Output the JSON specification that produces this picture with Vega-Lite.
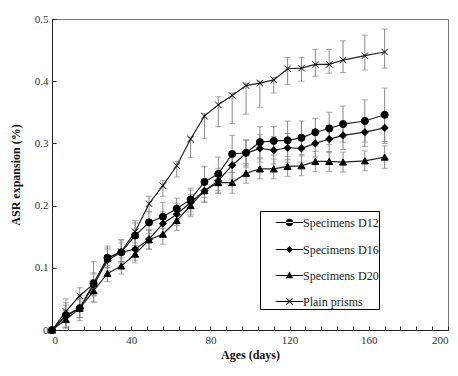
{
  "$schema": "https://vega.github.io/schema/vega-lite/v6.json",
  "autosize": {"type": "none"},
  "width": 396,
  "height": 311,
  "padding": {"left": 52, "top": 19, "right": 10, "bottom": 46},
  "background": "white",
  "config": {
    "font": "Liberation Serif",
    "view": {"stroke": "#777", "strokeWidth": 1},
    "axis": {
      "labelFont": "Liberation Serif",
      "labelFontSize": 11,
      "labelColor": "#333",
      "titleFont": "Liberation Serif",
      "titleFontSize": 12,
      "titleFontWeight": "bold",
      "titleColor": "#111",
      "domainColor": "#222",
      "tickColor": "#222",
      "grid": false
    },
    "legend": {"labelFont": "Liberation Serif", "labelFontSize": 12, "labelColor": "#222"}
  },
  "datasets": {
    "pts": [
      {"s": "Specimens D12", "d": 0, "v": 0, "lo": 0, "hi": 0},
      {"s": "Specimens D12", "d": 7, "v": 0.024, "lo": 0.004, "hi": 0.044},
      {"s": "Specimens D12", "d": 14, "v": 0.035, "lo": 0.015, "hi": 0.055},
      {"s": "Specimens D12", "d": 21, "v": 0.075, "lo": 0.045, "hi": 0.11},
      {"s": "Specimens D12", "d": 28, "v": 0.116, "lo": 0.1, "hi": 0.132},
      {"s": "Specimens D12", "d": 35, "v": 0.125, "lo": 0.108, "hi": 0.145},
      {"s": "Specimens D12", "d": 42, "v": 0.152, "lo": 0.132, "hi": 0.172},
      {"s": "Specimens D12", "d": 49, "v": 0.173, "lo": 0.155, "hi": 0.19},
      {"s": "Specimens D12", "d": 56, "v": 0.182, "lo": 0.163, "hi": 0.205},
      {"s": "Specimens D12", "d": 63, "v": 0.195, "lo": 0.178, "hi": 0.212},
      {"s": "Specimens D12", "d": 70, "v": 0.21, "lo": 0.19, "hi": 0.228},
      {"s": "Specimens D12", "d": 77, "v": 0.238, "lo": 0.213, "hi": 0.263},
      {"s": "Specimens D12", "d": 84, "v": 0.251, "lo": 0.224, "hi": 0.278},
      {"s": "Specimens D12", "d": 91, "v": 0.283, "lo": 0.253, "hi": 0.313},
      {"s": "Specimens D12", "d": 98, "v": 0.285, "lo": 0.265, "hi": 0.305},
      {"s": "Specimens D12", "d": 105, "v": 0.302, "lo": 0.277, "hi": 0.327},
      {"s": "Specimens D12", "d": 112, "v": 0.304, "lo": 0.281, "hi": 0.327},
      {"s": "Specimens D12", "d": 119, "v": 0.305, "lo": 0.274, "hi": 0.336},
      {"s": "Specimens D12", "d": 126, "v": 0.309, "lo": 0.282, "hi": 0.336},
      {"s": "Specimens D12", "d": 133, "v": 0.318, "lo": 0.296, "hi": 0.34},
      {"s": "Specimens D12", "d": 140, "v": 0.324, "lo": 0.298, "hi": 0.35},
      {"s": "Specimens D12", "d": 147, "v": 0.331, "lo": 0.302, "hi": 0.36},
      {"s": "Specimens D12", "d": 158, "v": 0.336, "lo": 0.302, "hi": 0.37},
      {"s": "Specimens D12", "d": 168, "v": 0.346, "lo": 0.303, "hi": 0.389},
      {"s": "Specimens D16", "d": 0, "v": 0, "lo": 0, "hi": 0},
      {"s": "Specimens D16", "d": 7, "v": 0.022, "lo": 0.005, "hi": 0.04},
      {"s": "Specimens D16", "d": 14, "v": 0.035, "lo": 0.02, "hi": 0.05},
      {"s": "Specimens D16", "d": 21, "v": 0.072, "lo": 0.055, "hi": 0.09},
      {"s": "Specimens D16", "d": 28, "v": 0.112, "lo": 0.095, "hi": 0.13},
      {"s": "Specimens D16", "d": 35, "v": 0.125, "lo": 0.11, "hi": 0.14},
      {"s": "Specimens D16", "d": 42, "v": 0.13, "lo": 0.112, "hi": 0.148},
      {"s": "Specimens D16", "d": 49, "v": 0.146, "lo": 0.13, "hi": 0.162},
      {"s": "Specimens D16", "d": 56, "v": 0.171, "lo": 0.153, "hi": 0.19},
      {"s": "Specimens D16", "d": 63, "v": 0.186, "lo": 0.168, "hi": 0.204},
      {"s": "Specimens D16", "d": 70, "v": 0.205, "lo": 0.185, "hi": 0.225},
      {"s": "Specimens D16", "d": 77, "v": 0.224, "lo": 0.205, "hi": 0.243},
      {"s": "Specimens D16", "d": 84, "v": 0.24, "lo": 0.22, "hi": 0.26},
      {"s": "Specimens D16", "d": 91, "v": 0.265, "lo": 0.243, "hi": 0.287},
      {"s": "Specimens D16", "d": 98, "v": 0.284, "lo": 0.262, "hi": 0.306},
      {"s": "Specimens D16", "d": 105, "v": 0.292, "lo": 0.27, "hi": 0.314},
      {"s": "Specimens D16", "d": 112, "v": 0.289, "lo": 0.267, "hi": 0.311},
      {"s": "Specimens D16", "d": 119, "v": 0.293, "lo": 0.27, "hi": 0.316},
      {"s": "Specimens D16", "d": 126, "v": 0.292, "lo": 0.27, "hi": 0.314},
      {"s": "Specimens D16", "d": 133, "v": 0.3, "lo": 0.278, "hi": 0.322},
      {"s": "Specimens D16", "d": 140, "v": 0.307, "lo": 0.285, "hi": 0.329},
      {"s": "Specimens D16", "d": 147, "v": 0.313, "lo": 0.29, "hi": 0.336},
      {"s": "Specimens D16", "d": 158, "v": 0.318, "lo": 0.295, "hi": 0.341},
      {"s": "Specimens D16", "d": 168, "v": 0.325, "lo": 0.3, "hi": 0.35},
      {"s": "Specimens D20", "d": 0, "v": 0, "lo": 0, "hi": 0},
      {"s": "Specimens D20", "d": 7, "v": 0.017, "lo": 0.003, "hi": 0.031},
      {"s": "Specimens D20", "d": 14, "v": 0.035, "lo": 0.02, "hi": 0.05},
      {"s": "Specimens D20", "d": 21, "v": 0.063, "lo": 0.045, "hi": 0.081},
      {"s": "Specimens D20", "d": 28, "v": 0.091, "lo": 0.078, "hi": 0.104},
      {"s": "Specimens D20", "d": 35, "v": 0.103, "lo": 0.09, "hi": 0.116},
      {"s": "Specimens D20", "d": 42, "v": 0.122, "lo": 0.108, "hi": 0.136},
      {"s": "Specimens D20", "d": 49, "v": 0.145, "lo": 0.13, "hi": 0.16},
      {"s": "Specimens D20", "d": 56, "v": 0.154, "lo": 0.138, "hi": 0.17},
      {"s": "Specimens D20", "d": 63, "v": 0.176, "lo": 0.16, "hi": 0.192},
      {"s": "Specimens D20", "d": 70, "v": 0.2, "lo": 0.182, "hi": 0.218},
      {"s": "Specimens D20", "d": 77, "v": 0.224, "lo": 0.207, "hi": 0.241},
      {"s": "Specimens D20", "d": 84, "v": 0.237, "lo": 0.22, "hi": 0.254},
      {"s": "Specimens D20", "d": 91, "v": 0.237, "lo": 0.22, "hi": 0.254},
      {"s": "Specimens D20", "d": 98, "v": 0.252, "lo": 0.236, "hi": 0.268},
      {"s": "Specimens D20", "d": 105, "v": 0.259, "lo": 0.243, "hi": 0.275},
      {"s": "Specimens D20", "d": 112, "v": 0.259, "lo": 0.243, "hi": 0.275},
      {"s": "Specimens D20", "d": 119, "v": 0.263, "lo": 0.247, "hi": 0.279},
      {"s": "Specimens D20", "d": 126, "v": 0.264, "lo": 0.248, "hi": 0.28},
      {"s": "Specimens D20", "d": 133, "v": 0.271, "lo": 0.255, "hi": 0.287},
      {"s": "Specimens D20", "d": 140, "v": 0.271, "lo": 0.255, "hi": 0.287},
      {"s": "Specimens D20", "d": 147, "v": 0.27, "lo": 0.254, "hi": 0.286},
      {"s": "Specimens D20", "d": 158, "v": 0.272, "lo": 0.256, "hi": 0.288},
      {"s": "Specimens D20", "d": 168, "v": 0.278, "lo": 0.26, "hi": 0.296},
      {"s": "Plain prisms", "d": 0, "v": 0, "lo": 0, "hi": 0},
      {"s": "Plain prisms", "d": 7, "v": 0.03, "lo": 0.012, "hi": 0.05},
      {"s": "Plain prisms", "d": 14, "v": 0.055, "lo": 0.04, "hi": 0.068},
      {"s": "Plain prisms", "d": 21, "v": 0.074, "lo": 0.055, "hi": 0.092},
      {"s": "Plain prisms", "d": 28, "v": 0.115, "lo": 0.1, "hi": 0.135},
      {"s": "Plain prisms", "d": 35, "v": 0.126, "lo": 0.11, "hi": 0.145},
      {"s": "Plain prisms", "d": 42, "v": 0.158, "lo": 0.14, "hi": 0.176},
      {"s": "Plain prisms", "d": 49, "v": 0.203, "lo": 0.19, "hi": 0.215},
      {"s": "Plain prisms", "d": 56, "v": 0.232, "lo": 0.215, "hi": 0.24},
      {"s": "Plain prisms", "d": 63, "v": 0.264, "lo": 0.246, "hi": 0.271},
      {"s": "Plain prisms", "d": 70, "v": 0.307, "lo": 0.277, "hi": 0.31},
      {"s": "Plain prisms", "d": 77, "v": 0.344, "lo": 0.308, "hi": 0.348},
      {"s": "Plain prisms", "d": 84, "v": 0.362, "lo": 0.327, "hi": 0.375},
      {"s": "Plain prisms", "d": 91, "v": 0.377, "lo": 0.332, "hi": 0.381},
      {"s": "Plain prisms", "d": 98, "v": 0.393, "lo": 0.347, "hi": 0.397},
      {"s": "Plain prisms", "d": 105, "v": 0.397, "lo": 0.358, "hi": 0.4},
      {"s": "Plain prisms", "d": 112, "v": 0.402, "lo": 0.381, "hi": 0.406},
      {"s": "Plain prisms", "d": 119, "v": 0.42, "lo": 0.395, "hi": 0.438},
      {"s": "Plain prisms", "d": 126, "v": 0.421, "lo": 0.4, "hi": 0.438},
      {"s": "Plain prisms", "d": 133, "v": 0.427, "lo": 0.408, "hi": 0.451},
      {"s": "Plain prisms", "d": 140, "v": 0.427, "lo": 0.413, "hi": 0.451},
      {"s": "Plain prisms", "d": 147, "v": 0.434, "lo": 0.414, "hi": 0.465},
      {"s": "Plain prisms", "d": 158, "v": 0.441, "lo": 0.418, "hi": 0.474},
      {"s": "Plain prisms", "d": 168, "v": 0.447, "lo": 0.421, "hi": 0.484}
    ]
  },
  "data": {"name": "pts"},
  "encoding": {
    "x": {
      "field": "d", "type": "quantitative",
      "scale": {"domain": [0, 200], "nice": false},
      "axis": {
        "title": "Ages (days)",
        "values": [0,8,16,24,32,40,48,56,64,72,80,88,96,104,112,120,128,136,144,152,160,168,176,184,192,200],
        "labelExpr": "datum.value % 40 == 0 ? datum.label : ''",
        "tickSize": -4,
        "labelPadding": 8,
        "titlePadding": 4
      }
    }
  },
  "resolve": {"scale": {"shape": "independent"}, "legend": {"shape": "independent"}},
  "layer": [
    {
      "mark": {"type": "errorbar", "ticks": {"size": 6, "color": "#888"}, "color": "#888", "thickness": 1},
      "encoding": {
        "y": {"field": "lo", "type": "quantitative", "scale": {"domain": [0, 0.5], "nice": false}, "title": "ASR expansion (%)"},
        "y2": {"field": "hi"},
        "detail": {"field": "s"}
      }
    },
    {
      "mark": {"type": "line", "color": "#222", "strokeWidth": 1.2},
      "encoding": {
        "y": {"field": "v", "type": "quantitative"},
        "detail": {"field": "s"}
      }
    },
    {
      "mark": {"type": "point", "filled": true, "color": "#000", "stroke": "#000", "strokeWidth": 1, "opacity": 1, "size": 50},
      "encoding": {
        "y": {
          "field": "v", "type": "quantitative",
          "scale": {"domain": [0, 0.5], "nice": false},
          "axis": {
            "title": "ASR expansion (%)",
            "values": [0,0.05,0.1,0.15,0.2,0.25,0.3,0.35,0.4,0.45,0.5],
            "labelExpr": "abs(round(datum.value*10) - datum.value*10) < 0.001 ? format(datum.value, '~g') : ''",
            "tickSize": -4,
            "labelPadding": 8,
            "titlePadding": 12
          }
        },
        "shape": {
          "field": "s", "type": "nominal",
          "scale": {
            "domain": ["Specimens D12", "Specimens D16", "Specimens D20", "Plain prisms"],
            "range": ["circle", "diamond", "triangle-up", "M-0.9,-0.9L0.9,0.9M-0.9,0.9L0.9,-0.9"]
          },
          "legend": null
        }
      }
    },
    {
      "mark": {"type": "point", "filled": true, "color": "#000", "opacity": 0, "size": 50},
      "encoding": {
        "y": {"field": "v", "type": "quantitative"},
        "shape": {
          "field": "s", "type": "nominal",
          "scale": {
            "domain": ["Specimens D12", "Specimens D16", "Specimens D20", "Plain prisms"],
            "range": [
              "M-1.3,-0.055H1.3V0.055H-1.3ZM-0.36,0A0.36,0.36 0 1,0 0.36,0A0.36,0.36 0 1,0 -0.36,0Z",
              "M-1.3,-0.055H1.3V0.055H-1.3ZM0,-0.33L0.33,0L0,0.33L-0.33,0Z",
              "M-1.3,-0.055H1.3V0.055H-1.3ZM0,-0.37L0.35,0.25L-0.35,0.25Z",
              "M-1.3,-0.055H1.3V0.055H-1.3ZM-0.335,-0.265L0.265,0.335L0.335,0.265L-0.265,-0.335ZM0.265,-0.335L0.335,-0.265L-0.265,0.335L-0.335,0.265Z"
            ]
          },
          "legend": {
            "title": null,
            "orient": "none",
            "legendX": 208,
            "legendY": 192,
            "padding": 0,
            "strokeColor": "#000",
            "fillColor": "white",
            "symbolSize": 441,
            "symbolOffset": 18,
            "labelOffset": 2,
            "rowPadding": 8,
            "symbolOpacity": 1,
            "symbolFillColor": "#000",
            "labelFont": "Liberation Serif",
            "labelFontSize": 12,
            "labelColor": "#222",
            "labelExpr": "datum.label + '\u00a0\u00a0\u00a0\u00a0'"
          }
        }
      }
    }
  ]
}
